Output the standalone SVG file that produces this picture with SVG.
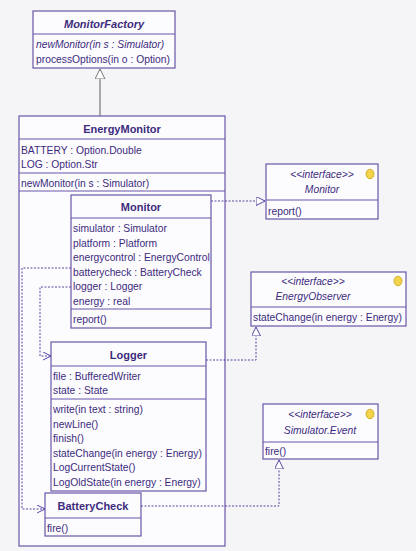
<svg xmlns="http://www.w3.org/2000/svg" width="416" height="551" viewBox="0 0 416 551">
<defs>
<style>
.box{fill:#fcfcff;stroke:#6a55a8;stroke-width:1.2}
.ln{stroke:#6a55a8;stroke-width:1.2;fill:none}
text{font-family:"Liberation Sans",Arial,sans-serif;font-size:10.3px;fill:#3d2b7d}
.t{font-weight:bold;font-size:11px;text-anchor:middle}
.ti{font-weight:bold;font-style:italic;font-size:11px;text-anchor:middle}
.it{font-style:italic}
.st{font-style:italic;text-anchor:middle}
.dash{stroke:#5a45a0;stroke-width:1;fill:none;stroke-dasharray:2,1.5}
.gen{stroke:#777;stroke-width:1.2;fill:none}
.dot{fill:#f2d34a;stroke:#c9a21e;stroke-width:0.8}
</style>
<marker id="tri" markerWidth="12" markerHeight="12" refX="9" refY="4.5" orient="auto" markerUnits="userSpaceOnUse">
<path d="M0,0 L9,4.5 L0,9 Z" fill="#fff" stroke="#5a45a0" stroke-width="1"/>
</marker>
<marker id="open" markerWidth="12" markerHeight="12" refX="8" refY="4" orient="auto" markerUnits="userSpaceOnUse">
<path d="M0,0 L8,4 L0,8" fill="none" stroke="#5a45a0" stroke-width="1"/>
</marker>
<marker id="gtri" markerWidth="14" markerHeight="14" refX="10" refY="5" orient="auto" markerUnits="userSpaceOnUse">
<path d="M0,0 L10,5 L0,10 Z" fill="#fff" stroke="#777" stroke-width="1"/>
</marker>
</defs>
<rect x="0" y="0" width="416" height="551" fill="#f5f5f7"/>

<g id="MonitorFactory">
<rect class="box" x="33" y="11" width="142" height="57"/>
<line class="ln" x1="33" y1="34" x2="175" y2="34"/>
<text class="ti" x="104" y="28">MonitorFactory</text>
<text class="it" x="36" y="48">newMonitor(in s : Simulator)</text>
<text x="36" y="63">processOptions(in o : Option)</text>
</g>

<g id="EnergyMonitor">
<rect class="box" x="19" y="116" width="206" height="430"/>
<line class="ln" x1="19" y1="139" x2="225" y2="139"/>
<line class="ln" x1="19" y1="173" x2="225" y2="173"/>
<line class="ln" x1="19" y1="191" x2="225" y2="191"/>
<text class="t" x="122" y="133">EnergyMonitor</text>
<text x="21" y="154">BATTERY : Option.Double</text>
<text x="21" y="168">LOG : Option.Str</text>
<text x="21" y="187">newMonitor(in s : Simulator)</text>
</g>

<g id="Monitor">
<rect class="box" x="71" y="195" width="140" height="133"/>
<line class="ln" x1="71" y1="218" x2="211" y2="218"/>
<line class="ln" x1="71" y1="309" x2="211" y2="309"/>
<text class="t" x="141" y="211">Monitor</text>
<text x="73" y="232">simulator : Simulator</text>
<text x="73" y="246.5">platform : Platform</text>
<text x="73" y="261">energycontrol : EnergyControl</text>
<text x="73" y="275.5">batterycheck : BatteryCheck</text>
<text x="73" y="290">logger : Logger</text>
<text x="73" y="304.5">energy : real</text>
<text x="73" y="323">report()</text>
</g>

<g id="Logger">
<rect class="box" x="51" y="342" width="155" height="149"/>
<line class="ln" x1="51" y1="366" x2="206" y2="366"/>
<line class="ln" x1="51" y1="399" x2="206" y2="399"/>
<text class="t" x="128.5" y="359">Logger</text>
<text x="53" y="380">file : BufferedWriter</text>
<text x="53" y="394">state : State</text>
<text x="53" y="413">write(in text : string)</text>
<text x="53" y="427.5">newLine()</text>
<text x="53" y="442">finish()</text>
<text x="53" y="456.5">stateChange(in energy : Energy)</text>
<text x="53" y="471">LogCurrentState()</text>
<text x="53" y="485.5">LogOldState(in energy : Energy)</text>
</g>

<g id="BatteryCheck">
<rect class="box" x="45" y="493" width="96" height="43"/>
<line class="ln" x1="45" y1="518" x2="141" y2="518"/>
<text class="t" x="93" y="510">BatteryCheck</text>
<text x="47" y="532">fire()</text>
</g>

<g id="MonitorInterface">
<rect class="box" x="266" y="164" width="112" height="55"/>
<line class="ln" x1="266" y1="200" x2="378" y2="200"/>
<text class="st" x="322" y="178">&lt;&lt;interface&gt;&gt;</text>
<text class="st" x="322" y="193">Monitor</text>
<text x="268" y="214.5">report()</text>
<ellipse class="dot" cx="370" cy="174" rx="4" ry="4.8"/>
</g>

<g id="EnergyObserver">
<rect class="box" x="251" y="272" width="155" height="54"/>
<line class="ln" x1="251" y1="307" x2="406" y2="307"/>
<text class="st" x="313" y="285">&lt;&lt;interface&gt;&gt;</text>
<text class="st" x="313" y="300">EnergyObserver</text>
<text x="253" y="321">stateChange(in energy : Energy)</text>
<ellipse class="dot" cx="398" cy="281" rx="4" ry="4.8"/>
</g>

<g id="SimulatorEvent">
<rect class="box" x="263" y="404" width="115" height="55"/>
<line class="ln" x1="263" y1="442" x2="378" y2="442"/>
<text class="st" x="320" y="418">&lt;&lt;interface&gt;&gt;</text>
<text class="st" x="320" y="434">Simulator.Event</text>
<text x="265" y="455">fire()</text>
<ellipse class="dot" cx="370" cy="414" rx="4" ry="4.8"/>
</g>

<g id="connectors">
<line class="gen" x1="100" y1="116" x2="100" y2="69" marker-end="url(#gtri)"/>
<polyline class="dash" points="211,201 265,201" marker-end="url(#tri)"/>
<polyline class="dash" points="206,360 256,360 256,327" marker-end="url(#tri)"/>
<polyline class="dash" points="141,506 279,506 279,460" marker-end="url(#tri)"/>
<polyline class="dash" points="71,268 22,268 22,509 45,509" marker-end="url(#open)"/>
<polyline class="dash" points="71,287 40,287 40,356 51,356" marker-end="url(#open)"/>
</g>
</svg>
